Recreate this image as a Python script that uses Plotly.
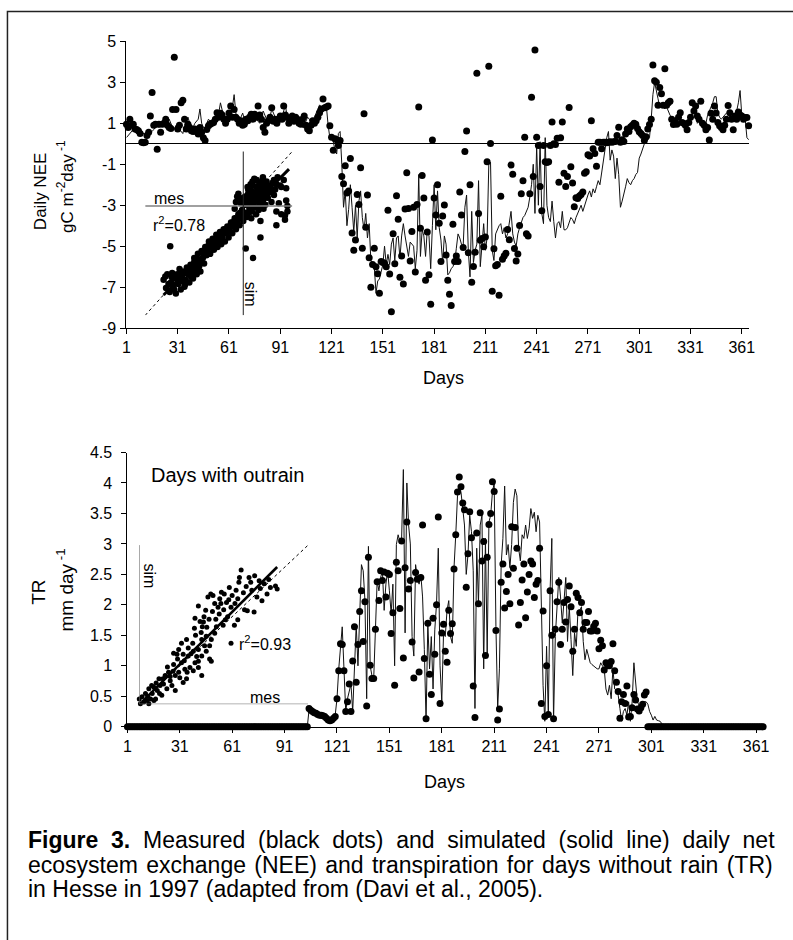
import plotly.graph_objects as go

W, H = 793, 940
FONT = "Liberation Sans, Arial, sans-serif"

days = list(range(1, 366))
day_ticks = [1, 31, 61, 91, 121, 151, 181, 211, 241, 271, 301, 331, 361]
nee_ticks = [-9, -7, -5, -3, -1, 1, 3, 5]
tr_ticks = [0, 0.5, 1, 1.5, 2, 2.5, 3, 3.5, 4, 4.5]

# Daily NEE (gC m-2 day-1), measured
nee_measured = [
    0.96, 0.8, 1.2, 0.9, 0.96, 0.72, 0.7, 0.64, 0.5, 0.08,
    0.05, 0.08, 0.4, 0.56, 1.36, 2.5, 0.9, 0.96, -0.27, 0.96,
    0.56, 0.96, 1.0, 1.2, 0.9, 0.8, 0.75, 1.68, 4.23, 1.68,
    0.72, 0.9, 2.0, 2.12, 1.2, 0.72, 0.96, 0.8, 0.64, 0.6,
    0.72, 0.6, 0.48, 0.8, 0.56, 0.3, 0.16, 0.7, 0.88, 0.96,
    1.0, 1.04, 1.2, 1.52, 1.3, 1.49, 1.4, 1.2, 1.0, 1.2,
    1.5, 1.84, 1.3, 1.68, 1.3, 1.2, 1.0, 1.12, 0.9, 0.96,
    1.2, 1.12, 1.3, 1.44, 1.2, 1.44, 1.3, 1.84, 1.4, 1.2,
    0.8, 0.56, 1.0, 1.12, 1.3, 1.76, 1.1, 1.2, 1.0, 1.2,
    1.36, 1.2, 1.84, 1.4, 1.28, 1.0, 1.2, 1.36, 1.1, 1.3,
    1.2, 1.0, 0.96, 1.2, 1.36, 0.9, 0.72, 0.64, 0.9, 1.12,
    1.0, 1.12, 1.3, 1.52, 1.7, 2.19, 1.76, 1.8, 1.84, 0.88,
    0.32, -0.32, 0.24, 0.2, -0.08, 0.16, -1.6, -1.95, -1.07, -2.4,
    -2.3, -0.72, -4.35, -5.2, -4.7, -2.48, -2.96, -1.17, -5.1, 1.47,
    -4.07, -2.5, -5.56, -7.0, -5.9, -5.1, -6.0, -6.34, -7.3, -5.75,
    -5.8, -5.83, -6.0, -3.24, -6.36, -8.2, -4.39, -5.86, -2.54, -3.69,
    -6.52, -5.48, -6.85, -3.18, -1.41, -3.16, -5.72, -4.28, -3.1, -6.26,
    -2.96, 1.8, -4.12, -1.55, -2.65, -6.66, -4.31, -6.4, -7.84, 0.18,
    -2.65, -3.48, -2.0, -3.88, -5.75, -3.53, -2.99, -5.43, -6.66, -7.35,
    -7.9, -3.93, -5.75, -5.48, -5.75, -2.35, -3.48, -5.06, -0.38, 0.62,
    -5.32, -2.0, -6.76, -5.99, -5.29, 3.45, -3.4, -4.71, -4.63, -5.03,
    -4.55, -0.88, 3.79, 0.02, -7.2, -5.13, -5.96, -5.9, -7.4, -2.56,
    -5.64, -5.48, -5.35, -4.19, -4.68, -1.04, -1.49, -5.11, -5.72, -5.38,
    -3.99, -2.44, -1.8, 0.32, -4.39, -4.5, -2.44, 2.27, -1.6, 4.58,
    0.32, -0.08, -2.08, -3.27, -0.08, -0.88, -0.91, -0.88, -0.08, 1.07,
    0.0, -0.03, 0.27, -1.88, 0.29, 1.07, -1.44, -2.08, -1.6, 1.77,
    -1.12, -1.92, -3.08, -2.64, -2.67, -2.55, -2.48, -2.36, -1.44, -1.36,
    -0.53, -0.6, 1.12, -0.24, -0.48, -1.1, 0.08, 0.08, -0.24, 0.08,
    0.08, 0.05, 0.08, 0.1, 0.08, 0.1, 0.11, 0.4, 0.81, 0.08,
    0.2, 0.11, 0.48, 0.72, 0.6, 0.83, 0.9, 1.0, 0.96, 0.75,
    0.59, 0.5, 0.4, 0.16, 0.34, 0.72, 0.94, 1.2, 3.85, 3.08,
    3.0, 1.88, 2.75, 2.44, 1.88, 3.66, 1.88, 2.0, 2.08, 1.2,
    0.94, 1.1, 0.96, 1.3, 1.52, 1.04, 1.0, 0.9, 0.69, 1.04,
    1.3, 2.0, 1.6, 1.84, 1.36, 1.2, 2.08, 1.0, 0.9, 0.69,
    0.8, 0.18, 1.49, 1.2, 1.84, 1.5, 1.04, 0.88, 0.8, 0.69,
    0.91, 1.2, 1.87, 1.52, 1.2, 0.69, 1.36, 1.2, 1.55, 1.4,
    1.36, 1.2, 1.28, 1.28, 0.88,
]

# Daily NEE (gC m-2 day-1), simulated
nee_simulated = [
    0.3, 0.4, 0.5, 0.6, 0.7, 0.6, 0.5, 0.6, 0.7, 0.6,
    0.5, 0.4, 0.5, 0.5, 0.6, 0.6, 0.7, 0.8, 0.9, 0.8,
    1.0, 1.1, 0.9, 0.8, 0.9, 1.2, 1.0, 0.8, 0.7, 0.9,
    0.8, 0.7, 0.6, 0.5, 0.9, 1.1, 1.3, 1.0, 0.9, 0.8,
    1.0, 1.1, 1.2, 1.7, 1.0, 0.8, 0.7, 1.0, 1.2, 1.1,
    1.1, 1.2, 1.3, 1.2, 1.5, 2.0, 1.6, 1.3, 1.2, 1.4,
    1.3, 1.5, 1.8, 2.4, 1.5, 1.2, 1.1, 1.3, 1.5, 1.2,
    1.1, 1.2, 1.3, 1.5, 1.6, 1.4, 1.2, 1.1, 1.0, 1.3,
    1.6, 1.4, 1.2, 1.0, 1.3, 1.7, 1.5, 1.3, 1.2, 1.1,
    1.2, 1.4, 1.6, 1.9, 1.3, 1.1, 1.2, 1.1, 1.0, 1.1,
    1.2, 1.0, 0.9, 0.8, 1.0, 1.1, 1.3, 1.2, 1.0, 1.1,
    1.3, 1.5, 1.7, 1.9, 1.8, 1.7, 1.9, 1.8, 0.9, 0.3,
    0.3, 0.1, -0.3, -0.5, 0.5, 0.6, -1.0, -3.1, -2.3, -4.0,
    -3.2, -2.0, -3.1, -4.3, -3.0, -4.6, -2.8, -2.3, -3.6, -4.2,
    -3.4, -4.6, -3.9, -5.7, -5.9, -6.0, -7.3, -6.7, -6.6, -6.2,
    -5.9, -5.0, -5.9, -5.4, -5.9, -4.9, -4.6, -5.7, -4.6, -4.5,
    -5.6, -4.5, -3.9, -4.5, -5.0, -5.5, -4.8, -4.9, -5.0, -6.1,
    -5.2, -1.5, -5.5, -4.2, -4.5, -5.5, -4.2, -4.5, -6.1, -4.0,
    -2.0, -4.2, -2.3, -4.1, -4.7, -5.8, -4.5, -4.9, -6.4, -6.3,
    -6.1, -6.0, -5.8, -5.1, -4.4, -4.6, -4.9, -5.0, -3.1, -2.5,
    -5.2, -6.5, -3.3, -5.8, -5.2, -4.9, -1.8, -6.0, -4.9, -3.9,
    -5.2, -4.6, -1.0, -0.9, -5.2, -5.7, -4.4, -4.2, -4.0, -3.9,
    -4.4, -4.1, -4.6, -4.4, -3.9, -3.3, -4.4, -4.8, -5.0, -4.4,
    -4.1, -3.8, -3.6, -3.5, -3.3, -3.1, -2.6, -2.0, -1.0, -3.4,
    -0.1, -3.0, 0.1, -3.4, -3.9, 0.3, -3.0, -3.6, -3.8, -2.8,
    -3.8, -4.6, -3.9, -3.8, -4.1, -3.3, -4.2, -4.2, -4.1, -3.8,
    -3.6, -3.7, -3.9, -3.6, -3.4, -3.2, -3.0, -3.3, -3.0, -2.8,
    -2.5, -2.3, -2.6, -2.2, -2.4, -2.1, -1.8, -2.0, -1.4, -0.9,
    -0.2, 0.3, 0.6, -0.8, -0.3, -0.6, -1.7, -0.7, -1.5, -3.1,
    -2.8, -2.5, -2.1, -1.7, -1.9, -2.0, -1.8, -1.7, -1.5, -1.4,
    -0.7, -0.5, -0.2, 0.0, 0.1, 0.2, 0.3, 1.2, 2.4, 3.0,
    2.5, 2.2, 1.8, 1.8, 1.8, 1.7, 1.8, 1.6, 1.4, 1.3,
    1.2, 1.2, 1.3, 1.4, 1.2, 1.0, 1.1, 1.1, 1.0, 1.0,
    1.2, 1.4, 1.8, 1.5, 1.0, 1.1, 0.9, 0.8, 0.7, 1.0,
    1.4, 1.6, 1.8, 2.0, 2.3, 2.3, 1.5, 1.3, 1.2, 1.3,
    1.4, 1.5, 1.5, 1.3, 1.2, 1.3, 1.4, 1.6, 2.0, 2.6,
    1.4, 1.3, 1.2, 0.3, 0.2,
]

# Daily transpiration (mm day-1) on days without rain, measured
tr_measured = [
    0, 0, 0, 0, 0, 0, 0, 0, 0, 0,
    0, 0, 0, 0, 0, 0, 0, 0, 0, 0,
    0, 0, 0, 0, 0, 0, 0, 0, 0, 0,
    0, 0, 0, 0, 0, 0, 0, 0, 0, 0,
    0, 0, 0, 0, 0, 0, 0, 0, 0, 0,
    0, 0, 0, 0, 0, 0, 0, 0, 0, 0,
    0, 0, 0, 0, 0, 0, 0, 0, 0, 0,
    0, 0, 0, 0, 0, 0, 0, 0, 0, 0,
    0, 0, 0, 0, 0, 0, 0, 0, 0, 0,
    0, 0, 0, 0, 0, 0, 0, 0, 0, 0,
    0, 0, 0, 0, 0.30, 0.27, 0.25, 0.23, 0.22, 0.2,
    0.19, 0.19, 0.18, 0.17, 0.14, 0.11, 0.1, 0.11, 0.14, 0.17,
    0.46, 0.92, 1.36, 1.35, 0.92, 0.25, 0.41, 0.7, 0.25, 1.08,
    1.64, 0.73, 1.35, 1.89, 2.23, 1.4, 2.05, 0.34, 2.78, 1.01,
    0.79, 0.79, 1.6, 2.38, 2.07, 2.56, 2.4, 2.54, 2.13, 2.52,
    2.5, 1.53, 1.87, 0.68, 2.7, 2.56, 1.94, 3.05, 1.13, 2.61,
    3.36, 2.26, 2.4, 1.39, 0.8, 2.53, 2.42, 0.9, 2.45, 3.31,
    1.12, 0.13, 1.7, 0.86, 0.53, 1.78, 1.19, 2.0, 3.44, 0.38,
    1.54, 1.68, 1.24, 1.06, 1.91, 1.53, 1.69, 2.59, 3.15, 3.85,
    4.1, 3.94, 3.67, 3.56, 2.29, 2.84, 3.53, 3.1, 0.67, 0.15,
    3.18, 2.02, 3.51, 2.72, 3.04, 1.17, 2.78, 3.32, 3.5, 4.02,
    3.86, 1.58, 0.11, 0.29, 2.37, 2.67, 1.95, 2.22, 2.5, 2.02,
    3.28, 2.6, 3.27, 2.93, 1.67, 2.04, 2.41, 2.67, 1.79, 2.21,
    2.5, 2.72, 2.67, 2.12, 2.34, 2.4, 2.93, 0.38, 1.9, 0.17,
    1.0, 0.2, 2.23, 1.5, 0.13, 1.6, 2.05, 2.37, 1.35, 1.6,
    2.04, 1.72, 2.09, 2.31, 1.97, 1.24, 1.6, 2.19, 2.12, 1.87,
    2.04, 1.6, 1.71, 1.71, 1.89, 1.57, 1.57, 1.65, 1.7, 1.57,
    1.28, 1.42, 1.33, 0.93, 1.05, 1.0, 1.0, 1.07, 1.36, 0.92,
    0.73, 0.58, 0.14, 0.41, 0.53, 0.38, 0.67, 0.16, 0.17, 0.31,
    0.53, 0.44, 0.29, 0.26, 0.31, 0.37, 0.52, 0.57, 0, 0,
    0, 0, 0, 0, 0, 0, 0, 0, 0, 0,
    0, 0, 0, 0, 0, 0, 0, 0, 0, 0,
    0, 0, 0, 0, 0, 0, 0, 0, 0, 0,
    0, 0, 0, 0, 0, 0, 0, 0, 0, 0,
    0, 0, 0, 0, 0, 0, 0, 0, 0, 0,
    0, 0, 0, 0, 0, 0, 0, 0, 0, 0,
    0, 0, 0, 0, 0,
]

# Daily transpiration (mm day-1), simulated
tr_simulated = [
    0, 0, 0, 0, 0, 0, 0, 0, 0, 0,
    0, 0, 0, 0, 0, 0, 0, 0, 0, 0,
    0, 0, 0, 0, 0, 0, 0, 0, 0, 0,
    0, 0, 0, 0, 0, 0, 0, 0, 0, 0,
    0, 0, 0, 0, 0, 0, 0, 0, 0, 0,
    0, 0, 0, 0, 0, 0, 0, 0, 0, 0,
    0, 0, 0, 0, 0, 0, 0, 0, 0, 0,
    0, 0, 0, 0, 0, 0, 0, 0, 0, 0,
    0, 0, 0, 0, 0, 0, 0, 0, 0, 0,
    0, 0, 0, 0, 0, 0, 0, 0, 0, 0,
    0, 0, 0, 0, 0.28, 0.26, 0.24, 0.22, 0.2, 0.18,
    0.17, 0.16, 0.15, 0.13, 0.1, 0.06, 0.09, 0.1, 0.11, 0.2,
    0.46, 0.95, 1.37, 1.64, 0.95, 0.25, 0.46, 0.6, 0.7, 0.25,
    1.1, 1.67, 1.0, 1.89, 2.66, 2.56, 2.07, 0.46, 2.96, 1.0,
    0.84, 0.78, 1.62, 2.4, 2.23, 2.45, 2.56, 1.91, 2.34, 2.56,
    2.23, 1.86, 2.34, 1.0, 2.99, 3.15, 3.04, 3.09, 4.22, 1.54,
    4.0, 3.31, 3.0, 1.48, 1.16, 2.66, 2.45, 2.34, 2.5, 2.13,
    1.27, 0.09, 1.7, 0.95, 1.48, 0.62, 1.59, 2.02, 2.93, 1.0,
    0.41, 1.54, 1.48, 1.91, 2.07, 1.48, 1.37, 2.61, 3.15, 3.79,
    3.95, 3.85, 3.58, 3.31, 2.5, 2.82, 3.47, 3.2, 2.56, 0.3,
    2.93, 2.02, 3.31, 3.47, 0.95, 3.09, 1.21, 3.36, 3.47, 3.85,
    4.0, 1.64, 0.3, 0.95, 2.66, 3.09, 3.95, 2.82, 2.99, 2.61,
    2.99, 3.68, 3.9, 3.79, 2.93, 2.72, 3.15, 3.09, 3.31, 3.09,
    3.25, 3.58, 3.42, 3.52, 3.2, 3.47, 3.36, 1.91, 0.68, 0.09,
    1.32, 0.19, 2.23, 3.09, 0.09, 1.48, 2.02, 2.45, 2.13, 1.7,
    2.07, 2.45, 1.4, 1.97, 1.43, 0.84, 1.54, 1.32, 1.91, 1.91,
    1.97, 1.4, 1.1, 1.27, 1.16, 1.05, 1.02, 1.0, 0.97, 0.95,
    0.95, 1.05, 1.0, 0.95, 0.62, 0.52, 0.68, 0.46, 0.95, 0.62,
    0.6, 0.52, 0.3, 0.09, 0.25, 0.3, 0.19, 0.41, 0.09, 0.41,
    1.05, 0.73, 0.41, 0.35, 0.3, 0.41, 0.41, 0.41, 0.37, 0.25,
    0.19, 0.11, 0.17, 0.11, 0.1, 0.09, 0.05, 0.03, 0, 0,
    0, 0, 0, 0, 0, 0, 0, 0, 0, 0,
    0, 0, 0, 0, 0, 0, 0, 0, 0, 0,
    0, 0, 0, 0, 0, 0, 0, 0, 0, 0,
    0, 0, 0, 0, 0, 0, 0, 0, 0, 0,
    0, 0, 0, 0, 0, 0, 0, 0, 0, 0,
    0, 0, 0, 0, 0,
]

# Inset: simulated vs measured NEE
inset_nee_mes = [
    -6.5, -6.3, -6.2, -6.0, -5.9, -5.8, -5.7, -5.6, -5.5, -5.4,
    -5.3, -5.2, -5.1, -5.0, -4.9, -4.8, -4.7, -4.6, -4.5, -4.4,
    -4.3, -4.2, -4.1, -4.0, -3.9, -3.8, -3.7, -3.6, -3.5, -3.4,
    -3.3, -3.2, -3.1, -3.0, -5.96, -6.36, -4.75, -5.56, -4.0, -3.7,
    -2.9, -2.8, -2.7, -2.6, -2.5, -2.4, -2.3, -2.2, -2.1, -2.0,
    -1.9, -1.8, -1.7, -1.6, -1.5, -1.4, -1.3, -1.2, -1.1, -1.0,
    -0.9, -0.8, -0.7, -0.6, -0.5, -0.4, -0.3, -0.2, -0.1, 0.0,
    -0.5, -0.3, -0.6, -0.4, -0.2, -0.7,
    0.1, 0.2, 0.3, 0.4, 0.5, 0.6, 0.7, 0.8, 0.9, 1.0,
    1.1, 1.2, 1.3, 1.4, 1.5, 1.6, 1.7, 1.8, 1.9, 2.0,
    0.2, 0.4, 0.6, 0.8, 1.0, 1.2, 1.4, 1.6, 1.8, 2.0,
    0.3, 0.5, 0.7, 0.9, 1.1, 1.3, 1.5, 1.7, 0.1, 0.0,
    0.6, 0.9, 1.1, 0.8, 1.3, 0.4, 1.6, 1.9,
    2.2, 2.4, 2.6, 2.8, 3.0, 3.3, 3.5, 2.3, 2.5, 2.7,
    2.9, 3.1, 3.4, 3.6,
    0.8, 0.2, 1.4, 1.4, 2.7, 3.4, 3.5, 3.6, 3.1,
    -6.1, -5.85, -5.65, -5.35, -5.15, -4.95, -4.65, -4.45, -4.25, -4.05,
    -3.85, -3.65, -3.45, -3.25, -3.05, -2.85, -2.65, -2.45, -2.25, -2.05,
    -1.85, -1.65, -1.45, -1.25, -1.05, -0.85, -0.65, -0.45, -0.25, -0.05,
    0.15, 0.35, 0.55, 0.75, 0.95, 1.15, 1.35, 1.55, 1.75, 1.95,
    0.45, 0.65, 1.05, 1.25, 1.45, 1.65, 2.1, 2.3, 2.5, 2.7,
]
inset_nee_sim = [
    -5.4, -6.0, -5.0, -6.3, -5.6, -4.9, -5.9, -5.3, -6.4, -5.0,
    -5.7, -4.6, -6.1, -5.2, -4.8, -5.9, -5.4, -4.5, -5.0, -5.6,
    -4.3, -4.9, -5.3, -4.1, -4.6, -5.0, -3.9, -4.4, -4.8, -3.3,
    -3.8, -4.2, -3.0, -3.6, -2.95, -5.15, -5.75, -5.15, -3.8, -3.5,
    -3.3, -2.6, -3.5, -3.0, -2.4, -3.2, -2.8, -2.1, -3.0, -2.6,
    -1.9, -2.8, -2.3, -1.7, -2.6, -2.0, -1.5, -2.3, -1.8, -1.2,
    -2.0, -1.5, -0.9, -1.7, -1.2, -0.6, -1.4, -0.9, -0.3, -1.1,
    0.7, 0.6, 0.3, 0.9, 0.2, -0.2,
    -0.5, 0.1, -0.8, 0.3, -0.2, 0.6, -0.4, 0.2, 0.9, -0.1,
    0.5, 1.2, 0.2, 0.8, 1.4, 0.4, 1.0, 0.1, 0.7, 1.3,
    0.4, 0.9, 0.0, 0.7, 1.0, 0.5, 1.6, 0.9, 1.2, 0.6,
    0.2, 0.8, 1.1, 0.3, 1.4, 0.9, 0.6, 1.5, 0.1, 0.5,
    1.6, 2.0, 1.9, 1.5, 1.7, 1.2, 2.1, 1.8,
    1.0, 1.7, 1.2, 2.1, 1.5, 1.9, 1.3, 0.3, 0.8, -0.4,
    0.2, -0.6, -1.0, -0.4,
    -3.8, -3.1, -1.1, -2.3, -1.4, -0.7, 0.4, 0.0, 1.4,
    -5.7, -5.2, -6.1, -5.4, -5.0, -5.5, -4.9, -4.6, -5.2, -4.5,
    -4.2, -4.7, -4.1, -3.5, -3.3, -2.9, -2.7, -2.9, -2.5, -2.2,
    -2.4, -2.0, -1.8, -1.9, -1.5, -1.2, -1.3, -0.9, -0.5, -0.7,
    0.7, 1.4, 0.3, 1.8, 0.6, 1.0, 1.3, 1.8, 0.6, 1.0,
    -0.5, -0.9, -0.6, -0.3, 0.0, -0.2, 1.5, 1.2, 1.9, 1.6,
]

# Inset: simulated vs measured TR
inset_tr_mes = [
    1.81, 1.78, 1.77, 1.95, 1.98, 2.13, 2.22, 2.3, 2.33, 2.42,
    2.45, 2.27, 2.09, 2.04, 1.92, 1.87, 1.75, 1.6, 1.59, 1.63,
    1.57, 1.51, 1.46, 1.43, 1.4, 1.34, 1.31, 1.27, 1.22, 1.18,
    1.15, 1.12, 1.08, 1.05, 0.99, 0.98, 1.49, 1.53, 1.37, 1.28,
    1.34, 1.19, 1.11, 1.16, 1.25, 1.05, 0.96, 0.84, 0.87, 0.78,
    0.75, 0.7, 0.67, 0.61, 1.75, 1.69, 1.63,
    1.28, 1.19, 1.11, 1.05, 0.99, 0.96, 0.9, 0.87, 0.81, 0.78,
    0.75, 0.7, 0.64, 0.61, 0.58, 0.55, 0.52, 0.49, 0.46, 0.43,
    0.4, 0.37, 0.35, 0.32, 0.29, 0.26, 0.23, 0.2, 0.17, 0.14,
    0.11, 0.08, 0.05, 0.02, 0.0, 0.17, 0.26, 0.64, 0.84, 1.11,
    1.25, 1.05,
    0.5, 0.6, 0.68, 0.72, 0.8, 0.85, 0.92, 0.95, 1.0, 1.02,
    1.1, 1.14, 1.2, 1.24, 1.3, 1.36, 1.42, 1.45, 1.5, 1.55,
    1.65, 1.7, 1.72, 1.85, 1.9, 2.0, 2.05, 2.15, 2.18, 0.3,
    0.36, 0.42, 0.15, 0.22, 0.55,
]
inset_tr_sim = [
    2.53, 2.39, 2.3, 2.39, 2.3, 2.33, 2.27, 2.35, 2.2, 2.23,
    2.17, 2.08, 2.02, 1.74, 1.76, 1.78, 1.99, 2.2, 1.97, 1.83,
    1.65, 2.08, 2.11, 1.99, 1.83, 1.9, 2.05, 2.08, 2.02, 1.77,
    1.65, 1.46, 1.56, 1.85, 1.62, 1.43, 1.49, 1.59, 1.46, 1.22,
    1.34, 1.28, 1.22, 1.1, 1.1, 1.03, 1.0, 1.22, 1.06, 0.94,
    1.15, 1.03, 0.94, 0.96, 1.59, 1.49, 1.15,
    0.81, 1.0, 0.91, 0.69, 0.78, 0.63, 0.69, 0.91, 0.66, 0.41,
    0.78, 0.6, 0.54, 0.75, 0.35, 0.44, 0.6, 0.29, 0.54, 0.38,
    0.17, 0.35, 0.48, 0.26, 0.1, 0.32, 0.2, 0.1, 0.29, 0.07,
    0.2, 0.04, 0.14, 0.01, 0.1, 0.01, 0.07, 0.26, 0.48, 0.54,
    0.85, 0.81,
    0.7, 0.62, 0.85, 0.5, 0.82, 0.6, 0.95, 1.15, 1.3, 0.9,
    1.35, 1.55, 1.45, 1.6, 1.75, 1.6, 1.7, 1.9, 1.78, 1.92,
    2.05, 1.9, 2.15, 2.1, 2.22, 2.15, 2.42, 2.18, 1.95, 0.4,
    0.2, 0.48, 0.15, 0.35, 0.52,
]

# Regression fits (slope, intercept, x extent) and 1:1 reference extents
nee_fit = {"slope": 0.9, "intercept": -0.66, "x0": -6.5, "x1": 3.73}
tr_fit = {"slope": 1.06, "intercept": -0.01, "x0": 0.05, "x1": 2.45}
nee_inset_range = [-8, 4]
tr_inset_range = [0, 3]

for series in (nee_measured, nee_simulated, tr_measured, tr_simulated):
    assert len(series) == len(days), len(series)
assert len(inset_nee_mes) == len(inset_nee_sim)
assert len(inset_tr_mes) == len(inset_tr_sim)


def px_x(v):
    return v / W


def px_y(v):
    return 1 - v / H


def dom_x(left, right):
    return [px_x(left), px_x(right)]


def dom_y(top, bottom):
    return [px_y(bottom), px_y(top)]


fig = go.Figure()

# ---- NEE panel
fig.add_trace(go.Scatter(x=days, y=nee_simulated, mode="lines",
                         line=dict(color="#111111", width=1),
                         xaxis="x", yaxis="y", cliponaxis=False))
fig.add_trace(go.Scatter(x=days, y=nee_measured, mode="markers",
                         marker=dict(color="black", size=7),
                         xaxis="x", yaxis="y", cliponaxis=False))

# ---- TR panel
fig.add_trace(go.Scatter(x=days, y=tr_simulated, mode="lines",
                         line=dict(color="#111111", width=1),
                         xaxis="x2", yaxis="y2", cliponaxis=False))
fig.add_trace(go.Scatter(x=days, y=tr_measured, mode="markers",
                         marker=dict(color="black", size=7),
                         xaxis="x2", yaxis="y2", cliponaxis=False))


def fit_line(fit):
    xs = [fit["x0"], fit["x1"]]
    return xs, [fit["slope"] * v + fit["intercept"] for v in xs]


# ---- NEE inset
fig.add_trace(go.Scatter(x=nee_inset_range, y=nee_inset_range, mode="lines",
                         line=dict(color="black", width=1, dash="dot"),
                         xaxis="x3", yaxis="y3", cliponaxis=False))
fig.add_trace(go.Scatter(x=inset_nee_mes, y=inset_nee_sim, mode="markers",
                         marker=dict(color="black", size=6.5),
                         xaxis="x3", yaxis="y3", cliponaxis=False))
fx, fy = fit_line(nee_fit)
fig.add_trace(go.Scatter(x=fx, y=fy, mode="lines",
                         line=dict(color="black", width=3),
                         xaxis="x3", yaxis="y3", cliponaxis=False))

# ---- TR inset
fig.add_trace(go.Scatter(x=tr_inset_range, y=tr_inset_range, mode="lines",
                         line=dict(color="black", width=1, dash="dot"),
                         xaxis="x4", yaxis="y4", cliponaxis=False))
fig.add_trace(go.Scatter(x=inset_tr_mes, y=inset_tr_sim, mode="markers",
                         marker=dict(color="black", size=5),
                         xaxis="x4", yaxis="y4", cliponaxis=False))
fx, fy = fit_line(tr_fit)
fig.add_trace(go.Scatter(x=fx, y=fy, mode="lines",
                         line=dict(color="black", width=2.5),
                         xaxis="x4", yaxis="y4", cliponaxis=False))

tick_font = dict(family=FONT, size=16, color="black")
axis_common = dict(showline=True, linecolor="black", linewidth=1,
                   ticks="outside", ticklen=5, tickwidth=1, tickcolor="black",
                   showgrid=False, tickfont=tick_font, fixedrange=True)

fig.update_layout(
    width=W, height=H,
    margin=dict(l=0, r=0, t=0, b=0),
    paper_bgcolor="white", plot_bgcolor="rgba(0,0,0,0)",
    showlegend=False, hovermode=False,
    xaxis=dict(domain=dom_x(124, 755), anchor="y", range=[1, 365.5],
               tickvals=day_ticks, zeroline=False, **axis_common),
    yaxis=dict(domain=dom_y(34, 326), anchor="x", range=[-9, 5],
               tickvals=nee_ticks, ticktext=[str(v) for v in nee_ticks],
               zeroline=True, zerolinecolor="black", zerolinewidth=1,
               ticklabelstandoff=1, **axis_common),
    xaxis2=dict(domain=dom_x(125, 769), anchor="y2", range=[1, 365.1],
                tickvals=day_ticks, zeroline=False, **axis_common),
    yaxis2=dict(domain=dom_y(452.7, 732), anchor="x2", range=[0, 4.5],
                tickvals=tr_ticks, ticktext=[f"{v:g}" for v in tr_ticks],
                zeroline=False, ticklabelstandoff=6, **axis_common),
    xaxis3=dict(domain=dom_x(143, 292), anchor="y3", range=nee_inset_range,
                visible=False, fixedrange=True),
    yaxis3=dict(domain=dom_y(146, 313), anchor="x3", range=nee_inset_range,
                visible=False, fixedrange=True),
    xaxis4=dict(domain=dom_x(137, 308), anchor="y4", range=tr_inset_range,
                visible=False, fixedrange=True),
    yaxis4=dict(domain=dom_y(547, 709), anchor="x4", range=tr_inset_range,
                visible=False, fixedrange=True),
)

# inset axes ("mes" horizontal, "sim" vertical)
shapes = [
    dict(type="line", xref="x3", yref="y3", x0=nee_inset_range[0], x1=nee_inset_range[1],
         y0=0, y1=0, line=dict(color="#808080", width=1.5)),
    dict(type="line", xref="x3", yref="y3", x0=0, x1=0,
         y0=nee_inset_range[0], y1=nee_inset_range[1], line=dict(color="#222222", width=1)),
    dict(type="line", xref="x4", yref="y4", x0=tr_inset_range[0], x1=tr_inset_range[1],
         y0=0, y1=0, line=dict(color="#666666", width=1)),
    dict(type="line", xref="x4", yref="y4", x0=0, x1=0,
         y0=tr_inset_range[0], y1=tr_inset_range[1], line=dict(color="#666666", width=1)),
    # outer frame
    dict(type="rect", xref="paper", yref="paper", x0=px_x(3.5), x1=px_x(820),
         y0=px_y(980), y1=px_y(3.5), line=dict(color="#222222", width=1.5)),
]
fig.update_layout(shapes=shapes)


def label(text, x, y, size, angle=0, xanchor="center", ref=("paper", "paper")):
    return dict(text=text, x=x, y=y, xref=ref[0], yref=ref[1], showarrow=False,
                textangle=angle, xanchor=xanchor, yanchor="middle",
                font=dict(family=FONT, size=size, color="black"))


annotations = [
    # NEE panel
    label("Daily NEE", px_x(37), px_y(187), 17, -90),
    label("gC m<sup>-2</sup>day<sup> -1</sup>", px_x(62), px_y(182), 17, -90),
    label("Days", px_x(445), px_y(377), 18),
    label("mes", -6.07, 0.55, 16, ref=("x3", "y3")),
    label("r<sup>2</sup>=0.78", -5.26, -1.32, 16, ref=("x3", "y3")),
    label("sim", 0.54, -6.49, 16, 90, ref=("x3", "y3")),
    # TR panel
    label("TR", px_x(35), px_y(595), 19, -90),
    label("mm day<sup> -1</sup>", px_x(62), px_y(593), 19, -90),
    label("Days", px_x(446), px_y(788), 18),
    label("Days with outrain", px_x(226), px_y(476), 20),
    label("sim", 0.19, 2.41, 16, 90, ref=("x4", "y4")),
    label("r<sup>2</sup>=0.93", 2.23, 1.15, 16, ref=("x4", "y4")),
    label("mes", 2.23, 0.13, 16, ref=("x4", "y4")),
]

# caption, widened word spacing so the first two lines fill the full width
NBSP, HAIR = "\u00a0", "\u200a"
caption_lines = [
    "<b>Figure " + NBSP + "3.</b> " + NBSP
    + "Measured (black dots) and simulated (solid line) daily net".replace(" ", " " + NBSP),
    "ecosystem exchange (NEE) and transpiration for days without rain (TR)".replace(" ", " " + HAIR),
    "in Hesse in 1997 (adapted from (Davi et al., 2005).",
]
for text, ypix in zip(caption_lines, [847, 873, 897]):
    annotations.append(label(text, px_x(22), px_y(ypix), 23, xanchor="left"))

fig.update_layout(annotations=annotations)

fig.write_html("out.html")
